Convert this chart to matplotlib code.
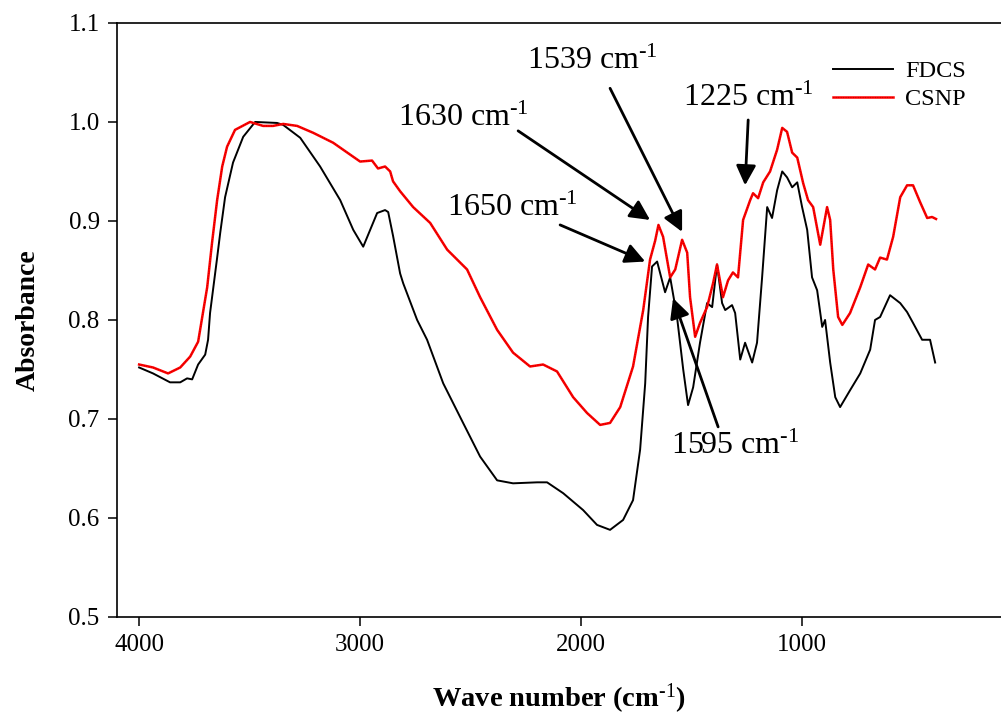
import matplotlib
matplotlib.use("Agg")
import matplotlib.pyplot as plt

plt.rcParams['font.family'] = ['Liberation Serif', 'DejaVu Serif']
plt.rcParams['mathtext.fontset'] = 'custom'
plt.rcParams['mathtext.rm'] = 'Liberation Serif'
plt.rcParams['mathtext.it'] = 'Liberation Serif:italic'
plt.rcParams['mathtext.bf'] = 'Liberation Serif:bold'

fdcs_wn = [4000, 3937, 3860, 3814, 3783, 3760, 3733, 3701, 3688, 3679, 3648, 3633, 3611, 3575, 3529,
           3475, 3376, 3348, 3271, 3181, 3090, 3031, 2986, 2923, 2887, 2873, 2851, 2819, 2805, 2742,
           2697, 2624, 2534, 2457, 2380, 2308, 2199, 2154, 2081, 1991, 1928, 1869, 1810, 1765, 1733,
           1710, 1697, 1679, 1656, 1620, 1597, 1566, 1538, 1516, 1493, 1462, 1430, 1407, 1385, 1362,
           1348, 1317, 1303, 1280, 1258, 1226, 1204, 1181, 1158, 1136, 1113, 1090, 1068, 1045, 1022,
           1000, 977, 955, 932, 909, 896, 873, 850, 828, 783, 737, 692, 670, 647, 602, 556, 525, 498,
           457, 421, 398]
fdcs_abs = [0.752, 0.746, 0.737, 0.737, 0.741, 0.740, 0.755, 0.765, 0.780, 0.807, 0.861, 0.888, 0.924,
            0.959, 0.985, 1.000, 0.999, 0.997, 0.984, 0.955, 0.921, 0.891, 0.874, 0.908, 0.911, 0.909,
            0.885, 0.847, 0.837, 0.800, 0.780, 0.736, 0.696, 0.662, 0.638, 0.635, 0.636, 0.636, 0.625,
            0.608, 0.593, 0.588, 0.598, 0.618, 0.669, 0.736, 0.803, 0.854, 0.859, 0.828, 0.843, 0.803,
            0.750, 0.714, 0.732, 0.777, 0.817, 0.813, 0.856, 0.817, 0.810, 0.815, 0.807, 0.760, 0.777,
            0.757, 0.777, 0.843, 0.914, 0.903, 0.931, 0.950, 0.944, 0.934, 0.939, 0.914, 0.891, 0.843,
            0.830, 0.793, 0.800, 0.757, 0.722, 0.712, 0.729, 0.746, 0.770, 0.800, 0.803, 0.825, 0.817,
            0.808, 0.797, 0.780, 0.780, 0.757]

csnp_wn = [4000, 3937, 3869, 3814, 3769, 3733, 3724, 3692, 3670, 3647, 3624, 3602, 3566, 3498, 3439,
           3394, 3348, 3285, 3212, 3122, 3045, 3000, 2946, 2919, 2887, 2864, 2851, 2819, 2760, 2683,
           2606, 2516, 2457, 2380, 2308, 2231, 2172, 2109, 2036, 1973, 1914, 1869, 1823, 1765, 1719,
           1688, 1665, 1650, 1629, 1597, 1574, 1543, 1520, 1507, 1484, 1462, 1430, 1403, 1385, 1358,
           1335, 1313, 1290, 1267, 1235, 1222, 1199, 1176, 1145, 1113, 1090, 1068, 1045, 1022, 995,
           973, 950, 918, 887, 873, 859, 837, 818, 783, 737, 701, 670, 647, 616, 588, 556, 525, 498,
           466, 434, 412, 394]
csnp_abs = [0.755, 0.752, 0.746, 0.752, 0.763, 0.778, 0.790, 0.833, 0.878, 0.921, 0.955, 0.975, 0.992,
            1.000, 0.996, 0.996, 0.998, 0.996, 0.989, 0.979, 0.967, 0.960, 0.961, 0.953, 0.955, 0.950,
            0.940, 0.930, 0.914, 0.898, 0.871, 0.851, 0.823, 0.790, 0.767, 0.753, 0.755, 0.748, 0.722,
            0.706, 0.694, 0.696, 0.712, 0.753, 0.810, 0.861, 0.880, 0.896, 0.884, 0.843, 0.851, 0.881,
            0.868, 0.823, 0.783, 0.797, 0.813, 0.837, 0.856, 0.823, 0.840, 0.848, 0.843, 0.901, 0.921,
            0.928, 0.923, 0.939, 0.950, 0.972, 0.994, 0.990, 0.969, 0.964, 0.938, 0.921, 0.914, 0.876,
            0.914, 0.901, 0.851, 0.803, 0.795, 0.807, 0.833, 0.856, 0.851, 0.863, 0.861, 0.884, 0.924,
            0.936, 0.936, 0.919, 0.903, 0.904, 0.902]

x_ticks = [4000, 3000, 2000, 1000]
y_ticks = [0.5, 0.6, 0.7, 0.8, 0.9, 1.0, 1.1]

# annotations: label, arrow tip (wn, abs), arrow tail (wn, abs), text centre (wn, abs)
ann_labels = ['1539', '1630', '1650', '1595', '1225']
ann_tip = [(1543, 0.889), (1688, 0.901), (1710, 0.859), (1584, 0.822), (1258, 0.936)]
ann_tail = [(1869, 1.034), (2285, 0.991), (2095, 0.896), (1380, 0.692), (1244, 1.002)]
ann_text = [(1950, 1.061), (2534, 1.004), (2312, 0.913), (1303, 0.672), (1244, 1.024)]

fig = plt.figure(figsize=(10.01, 7.17), dpi=100)
ax = fig.add_axes([0.1169, 0.1395, 0.8831, 0.8285])

l1, = ax.plot(fdcs_wn, fdcs_abs, color='black', lw=1.4)
l2, = ax.plot(csnp_wn, csnp_abs, color='#ff0000', lw=1.8)
l3, = ax.plot(csnp_wn, csnp_abs, color='#b00000', lw=0.8, ls=(0, (0.6, 1.6)))

ax.set_xlim(4100, 100)
ax.set_ylim(0.5, 1.1)
ax.set_xticks(x_ticks)
ax.set_xticklabels([str(t) for t in x_ticks])
ax.set_yticks(y_ticks)
ax.set_yticklabels(['%.1f' % t for t in y_ticks])
ax.tick_params(direction='out', length=6.5, width=1.1, labelsize=18, pad=6)
ax.spines['right'].set_visible(False)
for s in ['left', 'bottom', 'top']:
    ax.spines[s].set_linewidth(1.2)

ax.set_xlabel('Wave number (cm$^{\\mathbf{\\text{-1}}}$)', fontsize=20.5, fontweight='bold', labelpad=18)
ax.set_ylabel('Absorbance', fontsize=20, fontweight='bold', labelpad=20)

for lab, tip, tail, txt in zip(ann_labels, ann_tip, ann_tail, ann_text):
    ax.annotate('', xy=tip, xytext=tail,
                arrowprops=dict(arrowstyle='-|>', mutation_scale=30, lw=2, color='black',
                                shrinkA=0, shrinkB=0))
    ax.text(txt[0], txt[1], lab + ' cm$^{\\text{-1}}$', fontsize=23, ha='center', va='center')

leg = ax.legend([l1, (l2, l3)], ['FDCS', 'CSNP'], loc='upper left', bbox_to_anchor=(0.785, 0.974),
                frameon=False, fontsize=17.5, handlelength=2.47, handletextpad=0.5, labelspacing=0.25)

fig.savefig('out.png', dpi=100)
